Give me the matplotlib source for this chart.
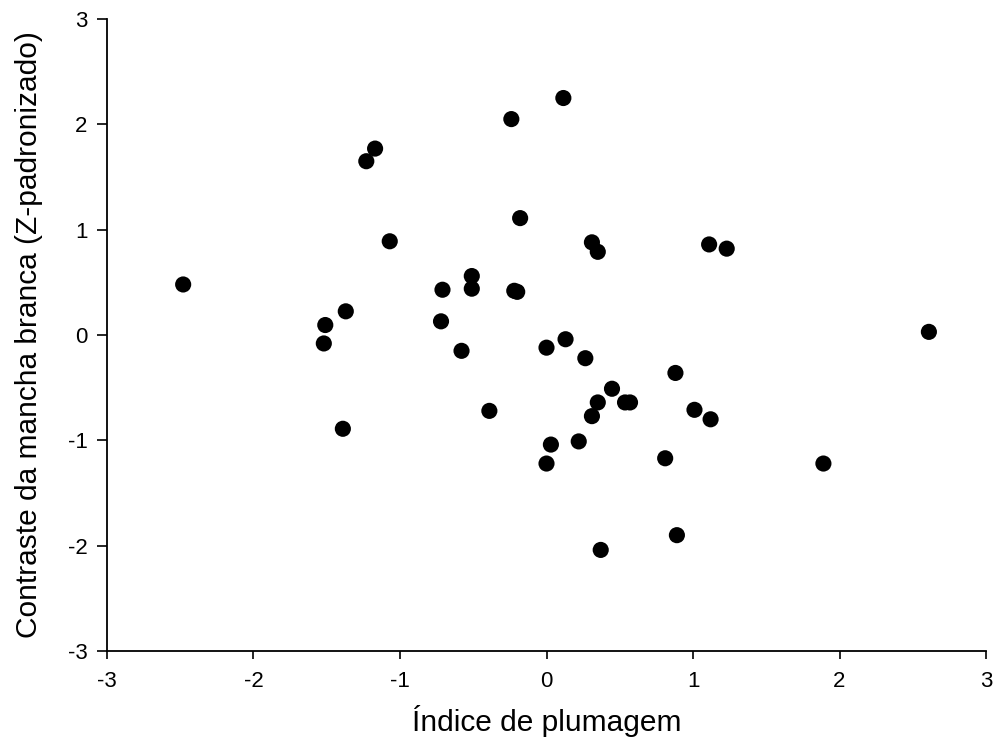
import numpy as np
import matplotlib.pyplot as plt

plt.rcParams['font.family'] = ['Liberation Sans', 'DejaVu Sans']

# Índice de plumagem vs contraste da mancha branca (Z)
indice = [-2.48, -1.51, -1.52, -1.37, -1.39, -1.23, -1.17, -1.07,
          -0.71, -0.72, -0.58, -0.51, -0.51, -0.39, -0.24, -0.22,
          -0.20, -0.18, 0.00, 0.00, 0.03, 0.115, 0.13, 0.22,
          0.265, 0.31, 0.35, 0.31, 0.35, 0.37, 0.447, 0.536,
          0.57, 0.81, 0.88, 0.89, 1.01, 1.12, 1.11, 1.23,
          1.89, 2.61]
contraste = [0.48, 0.095, -0.08, 0.225, -0.89, 1.65, 1.77, 0.89,
             0.43, 0.13, -0.15, 0.56, 0.44, -0.72, 2.05, 0.42,
             0.41, 1.11, -0.12, -1.22, -1.04, 2.25, -0.04, -1.01,
             -0.22, 0.88, 0.79, -0.77, -0.64, -2.04, -0.51, -0.64,
             -0.64, -1.17, -0.36, -1.90, -0.71, -0.80, 0.86, 0.82,
             -1.22, 0.03]

ticks = [-3, -2, -1, 0, 1, 2, 3]

fig = plt.figure(figsize=(9.97, 7.55), dpi=100)
ax = fig.add_axes([0.1073, 0.1377, 0.8817, 0.8371])

ax.scatter(indice, contraste, s=135, c='black', edgecolors='none', zorder=3)

ax.set_xlim(-3, 3)
ax.set_ylim(-3, 3)
ax.set_xticks(ticks)
ax.set_yticks(ticks)
ax.set_xticklabels([str(t) for t in ticks])
ax.set_yticklabels([str(t) for t in ticks])

ax.spines['top'].set_visible(False)
ax.spines['right'].set_visible(False)
ax.spines['left'].set_linewidth(1.3)
ax.spines['bottom'].set_linewidth(1.3)
ax.tick_params(axis='x', direction='out', length=5.5, width=1.2, labelsize=16, pad=9)
ax.tick_params(axis='y', direction='out', length=7, width=1.2, labelsize=16, pad=7)

ax.set_xlabel('Índice de plumagem', fontsize=21.5, labelpad=9)
ax.set_ylabel('Contraste da mancha branca (Z-padronizado)', fontsize=21.5, labelpad=18)

plt.savefig('out.png', dpi=100)
